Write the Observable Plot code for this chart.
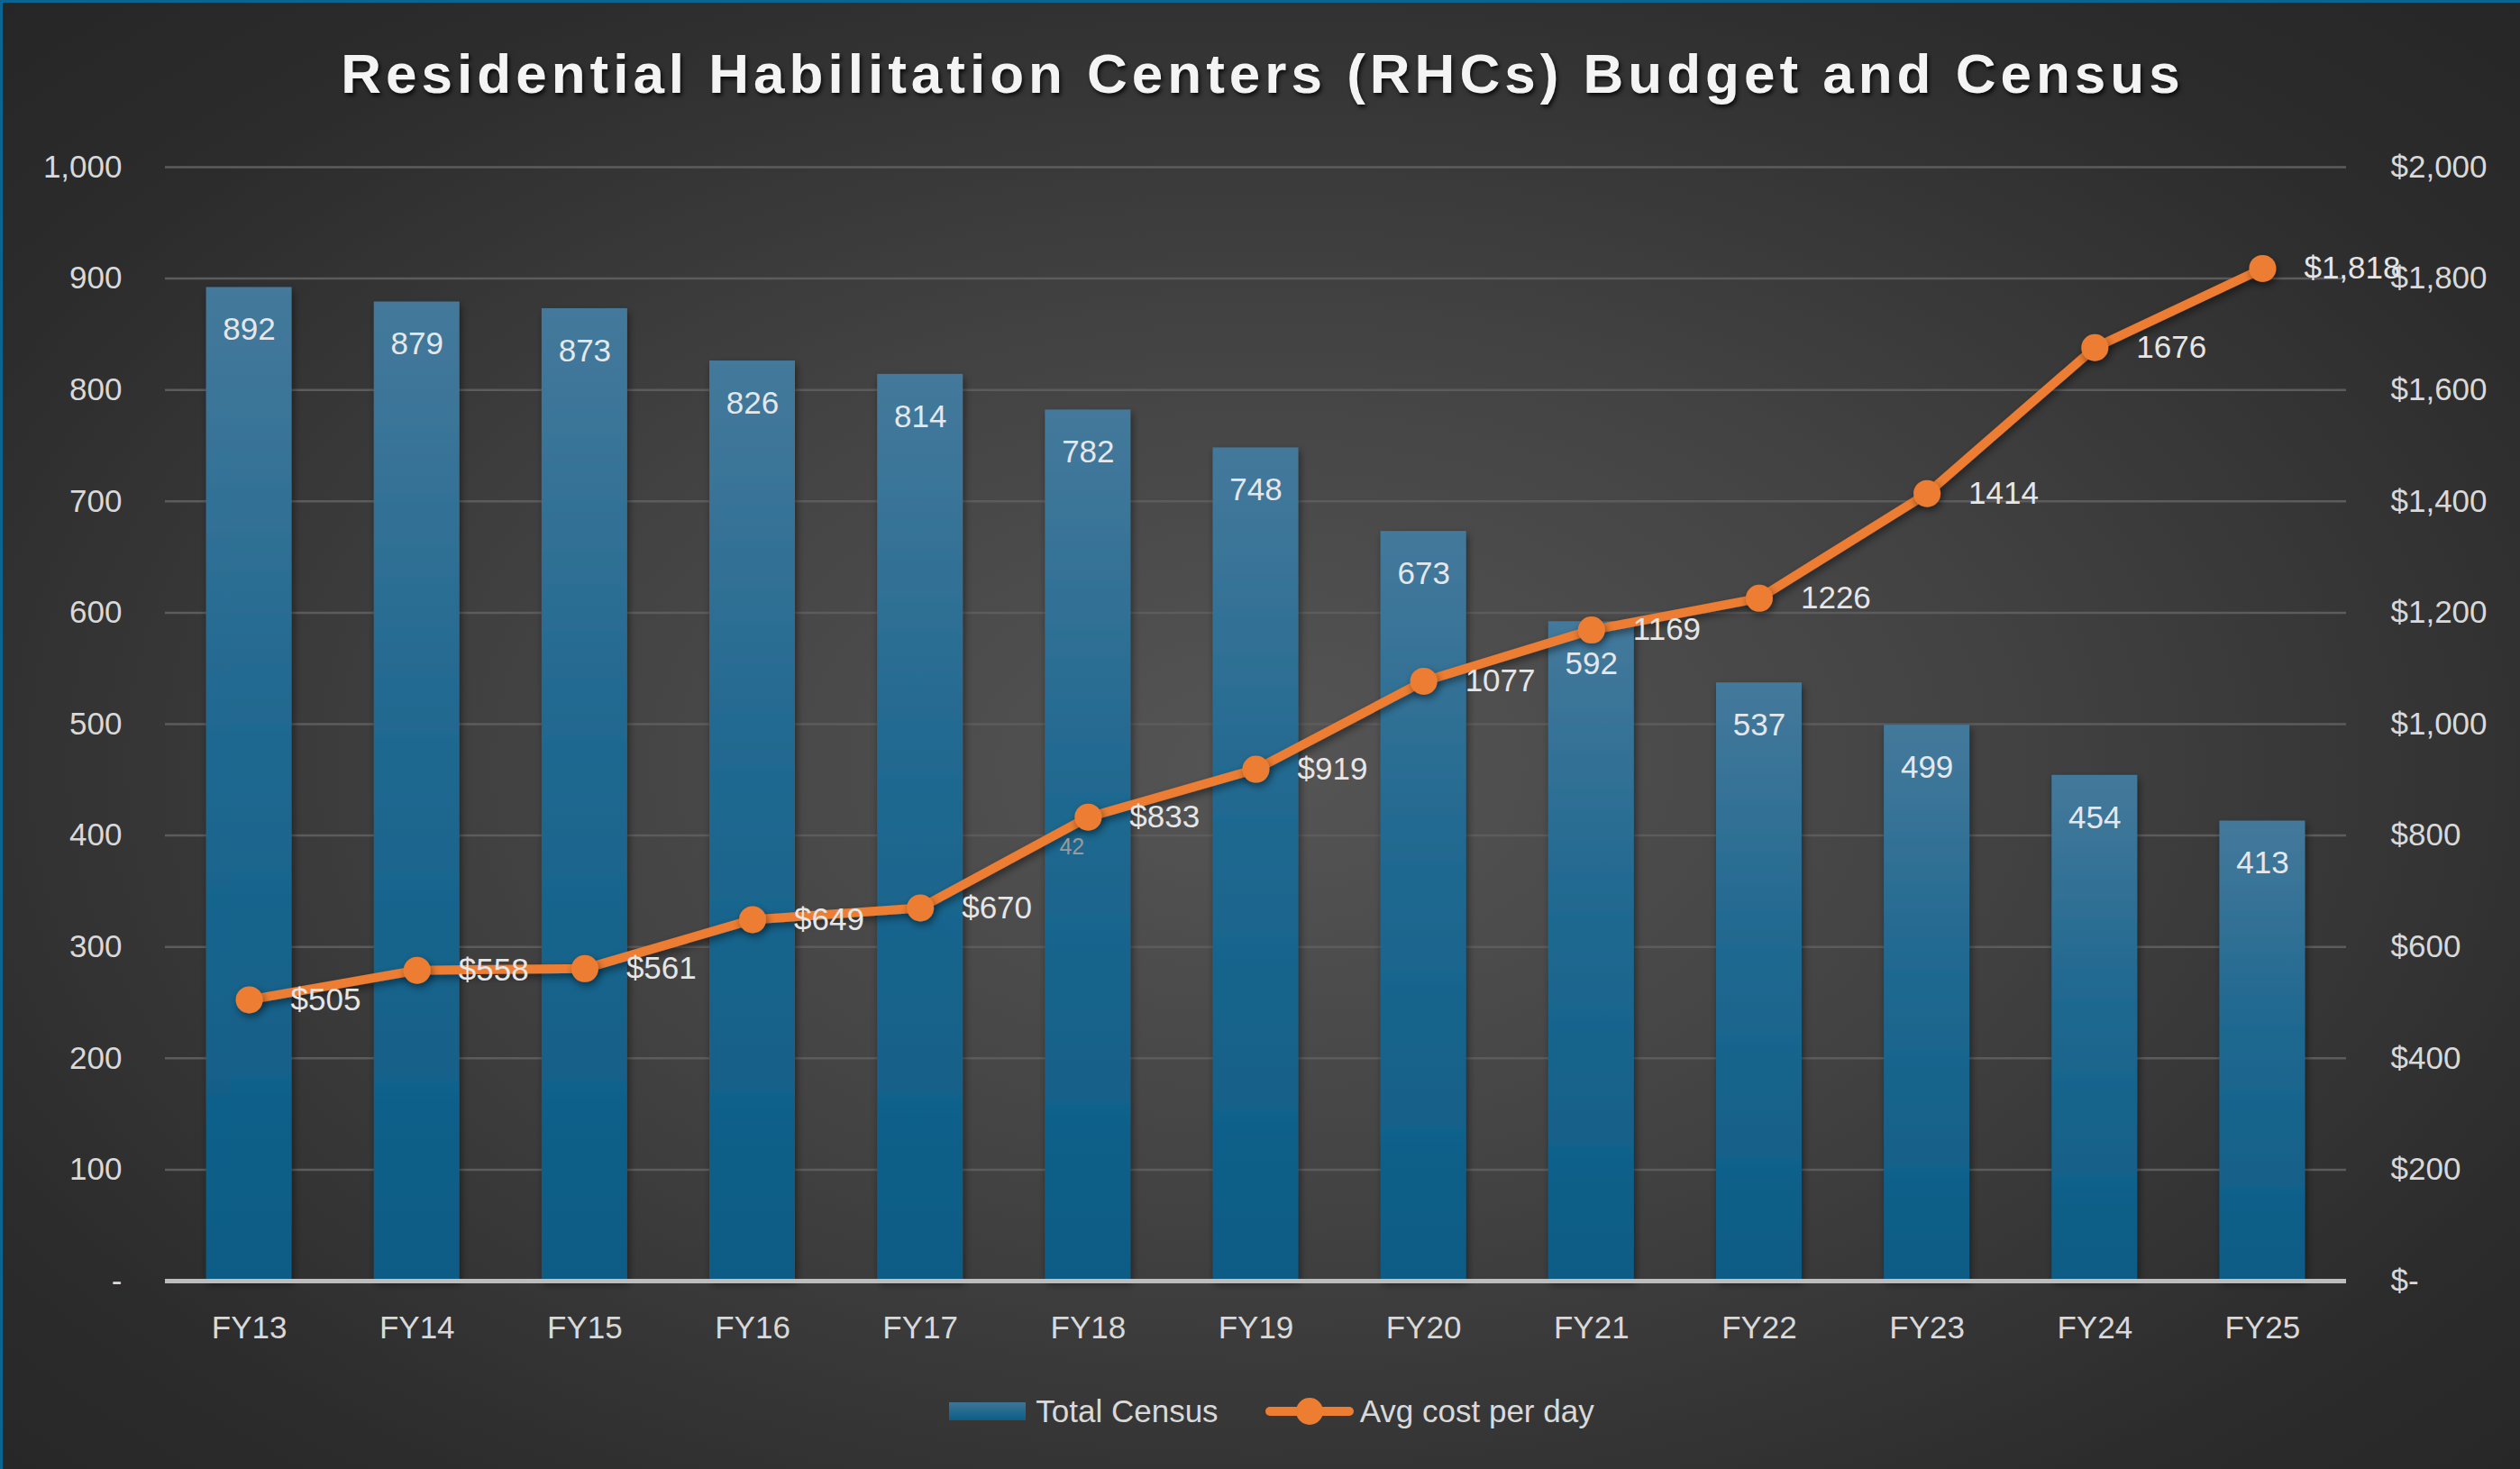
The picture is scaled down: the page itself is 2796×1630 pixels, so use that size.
<!DOCTYPE html>
<html>
<head>
<meta charset="utf-8">
<script src="https://cdn.jsdelivr.net/npm/d3@7"></script>
<script src="https://cdn.jsdelivr.net/npm/@observablehq/plot@0.6"></script>
<style>
  html, body { margin: 0; padding: 0; }
  body { width: 2796px; height: 1630px; overflow: hidden; }
  #page {
    position: relative; width: 2796px; height: 1630px; box-sizing: border-box;
    border-left: 3px solid #0b6593; border-top: 3px solid #0b6593;
    background: radial-gradient(ellipse farthest-corner at 50% 52%, #555555 0%, #434343 40%, #2c2c2c 80%, #262626 100%);
    font-family: "Liberation Sans", Arial, sans-serif;
  }
  #title {
    position: absolute; left: 0; top: 0; width: 2796px; height: 130px;
    display: flex; align-items: center; justify-content: center;
    color: #f4f4f4; font-family: "Liberation Sans", Arial, sans-serif; font-weight: bold;
    font-size: 62px; letter-spacing: 5px; text-shadow: 2px 3px 4px rgba(0,0,0,0.75);
    padding-top: 26px; box-sizing: border-box;
  }
  #chart { position: absolute; left: -3px; top: 127px; }
  #legend {
    position: absolute; left: 0; top: 1528px; width: 2796px; height: 70px;
    display: flex; align-items: center; justify-content: center; padding-left: 20px; box-sizing: border-box;
    color: #d9d9d9; font-size: 35px;
  }
  .sw { width: 85px; height: 20px; background: linear-gradient(#3f7597, #0b5e88); margin-right: 11px; }
  .ln { position: relative; width: 98px; height: 30px; margin-left: 52px; margin-right: 7px; }
  .ln .bar { position: absolute; left: 0; right: 0; top: 10px; height: 10px; background: #ed7d31; border-radius: 5px; }
  .ln .dot { position: absolute; left: 34px; top: 0; width: 30px; height: 30px; border-radius: 50%; background: #ed7d31; }
</style>
</head>
<body>
<div id="page">
  <div id="title">Residential Habilitation Centers (RHCs) Budget and Census</div>
  <div id="chart"></div>
  <div id="legend">
    <div class="sw"></div><span>Total Census</span>
    <div class="ln"><div class="bar"></div><div class="dot"></div></div><span>Avg cost per day</span>
  </div>
</div>
<script>
const years = ["FY13","FY14","FY15","FY16","FY17","FY18","FY19","FY20","FY21","FY22","FY23","FY24","FY25"];
const census = [892, 879, 873, 826, 814, 782, 748, 673, 592, 537, 499, 454, 413];
const costPerDay = [505, 558, 561, 649, 670, 833, 919, 1077, 1169, 1226, 1414, 1676, 1818];
const costLabels = ["$505","$558","$561","$649","$670","$833","$919","1077","1169","1226","1414","1676","$1,818"];
const leftTicks = [0, 100, 200, 300, 400, 500, 600, 700, 800, 900, 1000];
const rightTicks = [0, 200, 400, 600, 800, 1000, 1200, 1400, 1600, 1800, 2000];
const strayLabelYear = ["FY18"];
const strayLabelText = ["42"];

const leftMax = 1000, rightMax = 2000;
const toLeft = v => v * leftMax / rightMax;

const rows = years.map((fy, i) => ({fy, census: census[i], cost: costPerDay[i], costLabel: costLabels[i]}));
const stray = strayLabelYear.map((fy, i) => ({fy, text: strayLabelText[i], cost: costPerDay[years.indexOf(fy)]}));

const fmt = d3.format(",");
const labelFont = "Liberation Sans, Arial, sans-serif";

const plot = Plot.plot({
  width: 2796,
  height: 1380,
  marginTop: 55,
  marginBottom: 89,
  marginLeft: 183,
  marginRight: 193,
  style: {background: "transparent", fontFamily: labelFont, fontSize: "35px", color: "#d9d9d9", overflow: "visible"},
  x: {type: "band", domain: years, paddingInner: 0.49, paddingOuter: 0.245, round: false, label: null},
  y: {domain: [0, leftMax], label: null},
  marks: [
    Plot.ruleY(leftTicks.filter(d => d > 0), {stroke: "#5c5c5c", strokeWidth: 2.5}),
    Plot.barY(rows, {x: "fy", y: "census", fill: "url(#barGrad)"}),
    Plot.ruleY([0], {stroke: "#bdbdbd", strokeWidth: 5}),
    Plot.axisY({anchor: "left", ticks: leftTicks, tickSize: 0, tickPadding: 48, label: null,
      tickFormat: d => d === 0 ? "-" : fmt(d), fill: "#d9d9d9", fontSize: 35}),
    Plot.axisY({anchor: "right", ticks: rightTicks.map(toLeft), tickSize: 0, tickPadding: 49, label: null,
      tickFormat: d => { const v = Math.round(d * rightMax / leftMax); return v === 0 ? "$-" : "$" + fmt(v); },
      fill: "#d9d9d9", fontSize: 35}),
    Plot.axisX({anchor: "bottom", tickSize: 0, tickPadding: 39, label: null, fill: "#d9d9d9", fontSize: 35}),
    Plot.text(rows, {x: "fy", y: "census", text: d => String(d.census), dy: 47, fill: "#e4e8ec", fontSize: 35}),
    Plot.line(rows, {x: "fy", y: d => toLeft(d.cost), stroke: "#ed7d31", strokeWidth: 10, strokeLinejoin: "round", strokeLinecap: "round"}),
    Plot.dot(rows, {x: "fy", y: d => toLeft(d.cost), r: 15, fill: "#ed7d31", stroke: "none"}),
    Plot.text(rows, {x: "fy", y: d => toLeft(d.cost), text: "costLabel", dx: 46, textAnchor: "start", fill: "#e6e6e6", fontSize: 35}),
    Plot.text(stray, {x: "fy", y: d => toLeft(d.cost), text: "text", dx: -18, dy: 33, fill: "#9a9a9a", fontSize: 25})
  ]
});

// gradient + shadows
const svgns = "http://www.w3.org/2000/svg";
const defs = document.createElementNS(svgns, "defs");
defs.innerHTML = `
  <linearGradient id="barGrad" x1="0" y1="0" x2="0" y2="1">
    <stop offset="0" stop-color="#44799b"/>
    <stop offset="0.45" stop-color="#1f6890"/>
    <stop offset="1" stop-color="#0a5c86"/>
  </linearGradient>
  <filter id="shadow" x="-20%" y="-20%" width="140%" height="140%">
    <feDropShadow dx="2" dy="4" stdDeviation="4" flood-color="#000" flood-opacity="0.45"/>
  </filter>`;
plot.insertBefore(defs, plot.firstChild);
const groups = plot.querySelectorAll("g[aria-label='bar'], g[aria-label='line'], g[aria-label='dot']");
groups.forEach(g => g.setAttribute("filter", "url(#shadow)"));

document.getElementById("chart").appendChild(plot);
</script>
</body>
</html>
